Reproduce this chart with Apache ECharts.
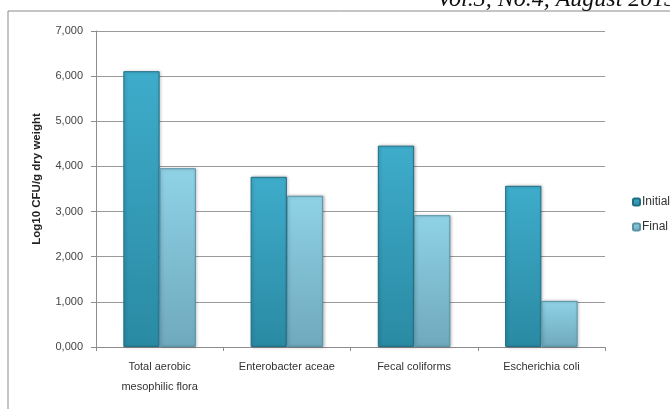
<!DOCTYPE html>
<html>
<head>
<meta charset="utf-8">
<style>
  html, body { margin: 0; padding: 0; background: #ffffff; }
  #chart { width: 670px; height: 409px; }
</style>
<script src="https://cdn.jsdelivr.net/npm/echarts@6/dist/echarts.min.js"></script>
</head>
<body>
<div id="chart"></div>
<script>
// Microbial counts before and after treatment
const categories = ['Total aerobic\nmesophilic flora', 'Enterobacter aceae', 'Fecal coliforms', 'Escherichia coli'];
const initialValues = [6.11, 3.77, 4.46, 3.57];
const finalValues = [3.96, 3.35, 2.92, 1.02];
const seriesNames = ['Initial', 'Final'];
const yTicks = { min: 0, max: 7, interval: 1 };
const yAxisTitle = 'Log10 CFU/g dry weight';

const chart = echarts.init(document.getElementById('chart'), null, { renderer: 'canvas' });

function barStyle(top, bottom, border) {
  return {
    color: new echarts.graphic.LinearGradient(0, 0, 0, 1, [
      { offset: 0, color: top },
      { offset: 1, color: bottom }
    ]),
    borderColor: border,
    borderWidth: 1,
    shadowColor: 'rgba(0,0,0,0.25)',
    shadowBlur: 3,
    shadowOffsetX: 1,
    shadowOffsetY: 0
  };
}

chart.setOption({
  animation: false,
  backgroundColor: '#ffffff',
  graphic: [
    {
      type: 'rect',
      shape: { x: 8, y: 11, width: 700, height: 420 },
      style: { fill: 'none', stroke: '#8a8a8a', lineWidth: 1 },
      z: 0
    },
    {
      type: 'text',
      left: 437,
      top: -12,
      style: {
        text: 'Vol.3, No.4, August 2013',
        font: 'italic 24px "Liberation Serif", "DejaVu Serif", serif',
        fill: '#111111'
      }
    },
    {
      // vertical axis title
      type: 'text',
      x: 37,
      y: 179,
      rotation: Math.PI / 2,
      style: {
        text: yAxisTitle,
        font: 'bold 11.5px "Liberation Sans", Arial, sans-serif',
        fill: '#222222',
        align: 'center',
        verticalAlign: 'middle'
      }
    }
  ],
  grid: { left: 96, right: 65, top: 31, bottom: 62 },
  legend: {
    orient: 'vertical',
    left: 627,
    top: 191,
    itemWidth: 7,
    itemHeight: 7,
    itemGap: 13,
    textStyle: { fontFamily: 'Liberation Sans, Arial, sans-serif', fontSize: 12, color: '#333333', padding: [0, 0, 0, -3] },
    data: seriesNames
  },
  xAxis: {
    type: 'category',
    data: categories,
    axisLine: { lineStyle: { color: '#8c8c8c' } },
    axisTick: { show: true, length: 4, lineStyle: { color: '#8c8c8c' } },
    axisLabel: {
      color: '#333333',
      fontFamily: 'Liberation Sans, Arial, sans-serif',
      fontSize: 11,
      margin: 10,
      lineHeight: 20
    }
  },
  yAxis: {
    type: 'value',
    min: yTicks.min,
    max: yTicks.max,
    interval: yTicks.interval,
    axisLine: { show: true, lineStyle: { color: '#8c8c8c' } },
    axisTick: { show: true, length: 5, lineStyle: { color: '#8c8c8c' } },
    splitLine: { lineStyle: { color: '#9a9a9a', width: 1 } },
    axisLabel: {
      color: '#444444',
      fontFamily: 'Liberation Sans, Arial, sans-serif',
      fontSize: 11,
      margin: 13,
      formatter: v => v.toFixed(3).replace('.', ',')
    }
  },
  series: [
    {
      name: seriesNames[0],
      type: 'bar',
      data: initialValues,
      barWidth: '28.5%',
      barGap: '0%',
      itemStyle: barStyle('#3eaccb', '#2a8aa3', '#1f6f86')
    },
    {
      name: seriesNames[1],
      type: 'bar',
      data: finalValues,
      barWidth: '28.5%',
      itemStyle: barStyle('#8fd2e6', '#6fa9bd', '#5a93a8')
    }
  ]
});
</script>
</body>
</html>
